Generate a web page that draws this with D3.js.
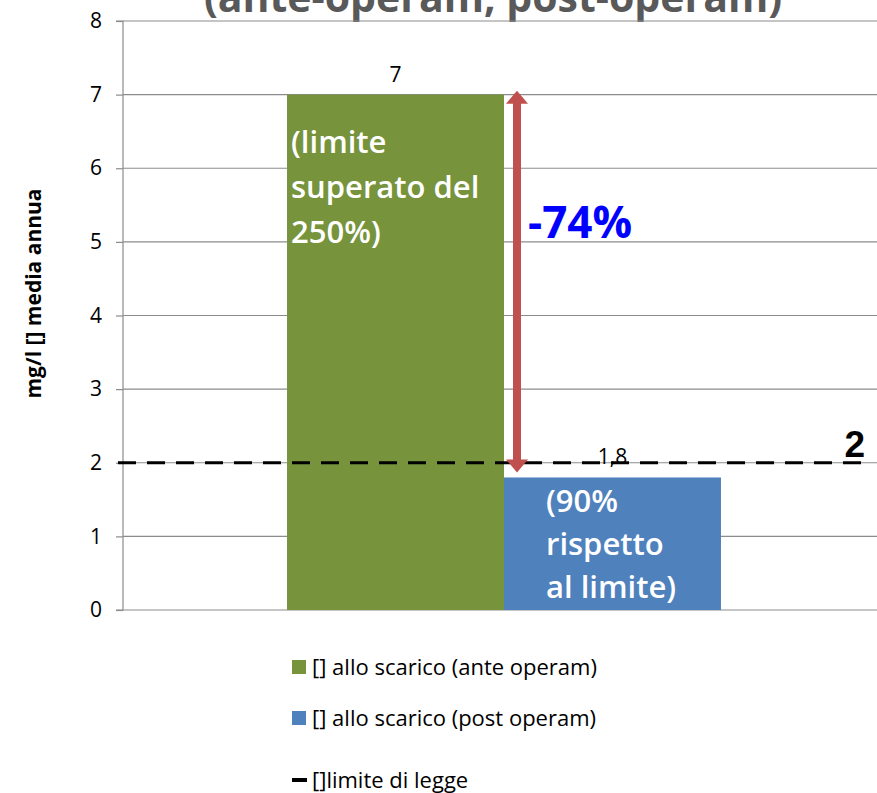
<!DOCTYPE html>
<html>
<head>
<meta charset="utf-8">
<script src="https://cdn.jsdelivr.net/npm/d3@7"></script>
<style>
  body { margin: 0; background: #fff; }
  svg { display: block; font-family: "Open Sans", sans-serif; }
</style>
</head>
<body>
<svg id="chart"></svg>
<script>
const series = ["[] allo scarico (ante operam)", "[] allo scarico (post operam)"];
const values = [7, 1.8];
const valueLabels = ["7", "1,8"];
const colors = ["#77933C", "#4F81BD"];
const barNotes = [["(limite", "superato del", "250%)"], ["(90%", "rispetto", "al limite)"]];
const limitValue = 2;
const limitLabel = "[]limite di legge";
const yTicks = [0, 1, 2, 3, 4, 5, 6, 7, 8];
const reduction = "-74%";

const W = 877, H = 793;
const marginLeft = 123, marginRight = -8, marginTop = 21, marginBottom = 183;
const width = W - marginLeft - marginRight;
const height = H - marginTop - marginBottom;

const svg = d3.select("#chart").attr("width", W).attr("height", H);

// title, mostly cut off at the top
svg.append("text")
  .attr("x", 493).attr("y", 12)
  .attr("text-anchor", "middle")
  .attr("font-size", 41).attr("font-weight", "bold")
  .attr("fill", "#595959")
  .text("(ante-operam, post-operam)");

const yScale = d3.scaleLinear().domain([0, 8]).range([height, 0]);
const xScale = d3.scaleBand().domain(series).range([0, width]).paddingInner(0).paddingOuter(0.756);

const chart = svg.append("g").attr("transform", `translate(${marginLeft}, ${marginTop})`);

// gridlines
chart.append("g")
  .selectAll("line")
  .data(yTicks)
  .enter().append("line")
  .attr("x1", 0).attr("x2", width)
  .attr("y1", d => yScale(d)).attr("y2", d => yScale(d))
  .attr("stroke", "#8c8c8c").attr("stroke-width", 1.2);

const yAxis = chart.append("g")
  .call(d3.axisLeft(yScale).tickValues(yTicks).tickSize(7).tickPadding(14).tickFormat(d3.format("d")));
yAxis.selectAll("line, path").attr("stroke", "#8c8c8c").attr("stroke-width", 1.2);
yAxis.select(".domain").attr("d", `M-7,${height}H0V0H-7`);
yAxis.selectAll("text").attr("font-size", 21).attr("fill", "#000").attr("font-family", "Open Sans, sans-serif");

svg.append("text")
  .attr("transform", `translate(41, ${marginTop + height / 2 - 22}) rotate(-90)`)
  .attr("text-anchor", "middle")
  .attr("font-size", 21).attr("font-weight", "bold")
  .text("mg/l [] media annua");

// bars
chart.selectAll(".bar")
  .data(values)
  .enter().append("rect")
  .attr("class", "bar")
  .attr("x", (d, i) => xScale(series[i]))
  .attr("y", d => yScale(d))
  .attr("width", xScale.bandwidth())
  .attr("height", d => height - yScale(d))
  .attr("fill", (d, i) => colors[i]);

chart.selectAll(".vlabel")
  .data(values)
  .enter().append("text")
  .attr("class", "vlabel")
  .attr("x", (d, i) => xScale(series[i]) + xScale.bandwidth() / 2)
  .attr("y", d => yScale(d) - 13)
  .attr("text-anchor", "middle")
  .attr("font-size", 21)
  .text((d, i) => valueLabels[i]);

// notes inside bars
const noteX = [4, 42];
const noteGap = [45, 43];
barNotes.forEach(function(lines, i) {
  const top = i == 0 ? yScale(7) + 58 : yScale(values[1]) + 35;
  lines.forEach(function(l, j) {
    chart.append("text")
      .attr("x", xScale(series[i]) + noteX[i])
      .attr("y", top + j * noteGap[i])
      .attr("font-size", 31).attr("font-weight", 600)
      .attr("fill", "#fff")
      .text(l);
  });
});

// limit line
chart.append("line")
  .attr("x1", -5).attr("x2", 742)
  .attr("y1", yScale(limitValue)).attr("y2", yScale(limitValue))
  .attr("stroke", "#000").attr("stroke-width", 3)
  .attr("stroke-dasharray", "18,11");

chart.append("text")
  .attr("x", 742).attr("y", yScale(limitValue) - 6)
  .attr("text-anchor", "end")
  .attr("font-size", 37).attr("font-weight", "bold")
  .attr("font-family", "Liberation Sans, Arial, sans-serif")
  .text(limitValue);

// red arrow from ante to post
const ax = xScale(series[1]) + 13;
const yTop = yScale(values[0]) - 4, yBot = yScale(values[1]) - 5;
chart.append("line")
  .attr("x1", ax).attr("x2", ax)
  .attr("y1", yTop + 12).attr("y2", yBot - 12)
  .attr("stroke", "#C0504D").attr("stroke-width", 8);
chart.append("path")
  .attr("d", `M${ax},${yTop}L${ax + 11},${yTop + 13}L${ax - 11},${yTop + 13}Z`)
  .attr("fill", "#C0504D");
chart.append("path")
  .attr("d", `M${ax},${yBot}L${ax + 11},${yBot - 13}L${ax - 11},${yBot - 13}Z`)
  .attr("fill", "#C0504D");

chart.append("text")
  .attr("x", ax + 11).attr("y", yScale(5) - 4)
  .attr("font-size", 44).attr("font-weight", "bold")
  .attr("fill", "#0000FF")
  .text(reduction);

// legend
const legend = svg.append("g").attr("transform", "translate(292, 667)");
series.forEach(function(s, i) {
  const g = legend.append("g").attr("transform", `translate(0, ${i * 51})`);
  g.append("rect").attr("x", 0).attr("y", -7).attr("width", 14).attr("height", 14).attr("fill", colors[i]);
  g.append("text").attr("x", 20).attr("y", 8).attr("font-size", 22).text(s);
});
const lg = legend.append("g").attr("transform", "translate(0, 113)");
lg.append("line").attr("x1", 0).attr("x2", 15).attr("y1", 0).attr("y2", 0).attr("stroke", "#000").attr("stroke-width", 4);
lg.append("text").attr("x", 20).attr("y", 8).attr("font-size", 22).text(limitLabel);
</script>
</body>
</html>
